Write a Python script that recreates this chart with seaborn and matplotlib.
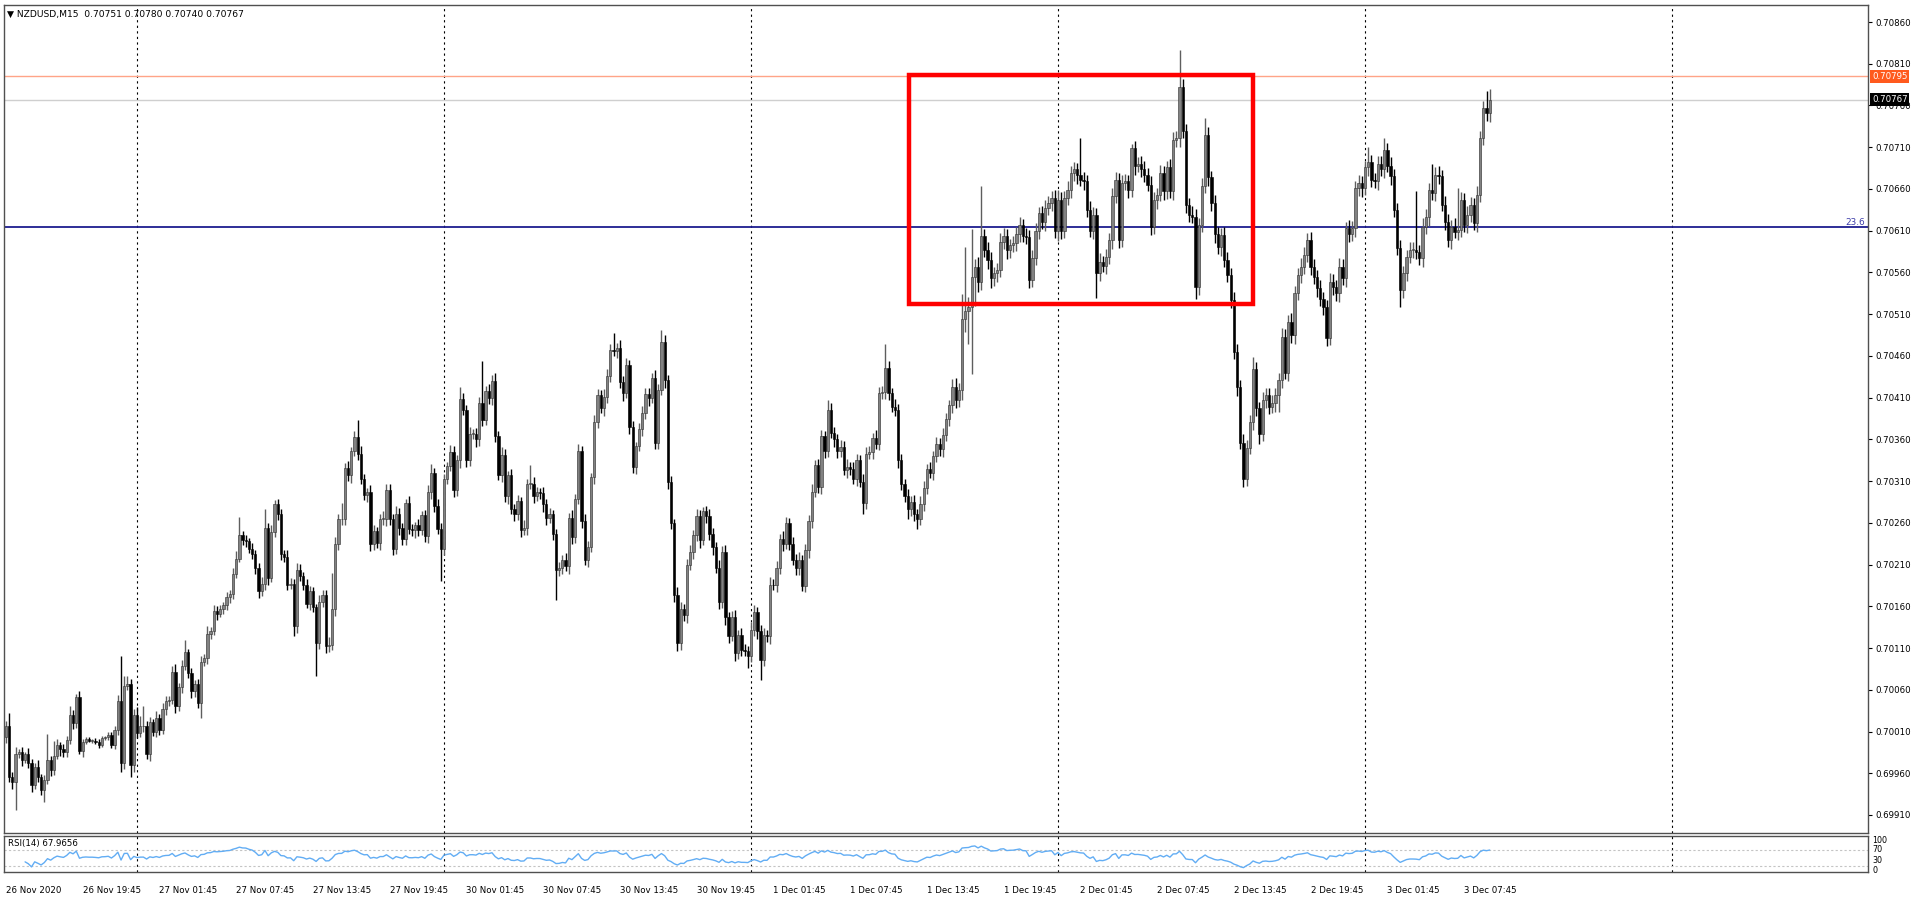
# NZDUSD M15 candlestick chart with RSI panel (MT4 style)

import numpy as np
import pandas as pd
import seaborn as sns
import matplotlib.pyplot as plt
import matplotlib.transforms as mtransforms
from matplotlib.patches import Rectangle

sns.set_style("white")
plt.rcParams["font.family"] = ["DejaVu Sans"]

# ==========================================================
# Data (prices in points above 0.70000, one value per M15 bar)
# ==========================================================

first_open = 4

close_pts = [
    16, -44, -50, -17, -15, -24, -17, -28, -54, -32, -44, -60, -48, -24, -36, -19, -6, -11, -15, 0,
    30, 20, 51, -13, -2, 1, -1, -1, -3, -6, 2, 3, 6, -6, 12, 46, -28, 65, 67, -30,
    30, 8, 16, 17, -17, 21, 10, 26, 12, 37, 46, 48, 81, 40, 63, 89, 105, 80, 58, 67,
    44, 93, 98, 127, 131, 154, 151, 157, 161, 171, 175, 199, 217, 245, 239, 238, 229, 223, 206, 178,
    187, 254, 194, 249, 282, 270, 223, 219, 186, 187, 136, 203, 196, 186, 163, 178, 159, 116, 165, 174,
    112, 114, 157, 235, 264, 265, 326, 317, 346, 363, 343, 313, 293, 297, 235, 250, 236, 265, 265, 299,
    265, 229, 271, 254, 241, 284, 253, 251, 257, 252, 269, 244, 297, 320, 280, 253, 229, 313, 328, 345,
    299, 335, 408, 395, 335, 366, 367, 360, 403, 383, 418, 410, 430, 364, 317, 341, 292, 317, 276, 270,
    286, 251, 254, 307, 307, 292, 297, 296, 282, 266, 270, 247, 204, 206, 216, 208, 266, 243, 288, 346,
    262, 216, 231, 315, 381, 413, 397, 411, 436, 467, 466, 470, 429, 415, 449, 375, 327, 352, 372, 391,
    414, 409, 434, 356, 419, 477, 431, 309, 260, 174, 116, 157, 149, 210, 225, 245, 268, 239, 274, 268,
    247, 231, 206, 165, 225, 147, 124, 147, 104, 126, 108, 107, 101, 132, 153, 130, 96, 126, 124, 186,
    185, 206, 241, 235, 260, 235, 216, 206, 216, 184, 227, 262, 297, 329, 303, 364, 346, 395, 368, 360,
    346, 351, 323, 327, 325, 313, 335, 309, 284, 343, 345, 362, 355, 415, 417, 446, 415, 399, 395, 335,
    307, 292, 277, 285, 270, 264, 283, 302, 324, 320, 340, 355, 348, 365, 384, 401, 423, 407, 419, 504,
    514, 519, 555, 567, 549, 604, 587, 575, 553, 559, 563, 597, 604, 587, 593, 595, 606, 617, 604, 603,
    551, 577, 610, 631, 621, 637, 643, 649, 610, 647, 610, 649, 659, 679, 684, 677, 671, 669, 635, 610,
    629, 559, 573, 568, 579, 599, 651, 671, 599, 667, 669, 659, 709, 688, 690, 684, 677, 665, 615, 647,
    653, 679, 657, 686, 657, 719, 721, 782, 729, 641, 629, 627, 543, 617, 663, 725, 674, 643, 606, 590,
    605, 575, 557, 527, 465, 423, 356, 313, 350, 381, 444, 397, 366, 407, 413, 399, 403, 413, 431, 483,
    440, 501, 485, 535, 557, 567, 581, 599, 567, 555, 541, 528, 519, 481, 549, 543, 535, 567, 553, 613,
    606, 613, 661, 667, 661, 686, 692, 671, 669, 690, 684, 707, 688, 675, 635, 589, 539, 559, 579, 587,
    587, 585, 577, 615, 627, 659, 655, 677, 675, 641, 621, 599, 615, 609, 611, 647, 617, 629, 641, 619,
    653, 721, 757, 751, 767,
]

# upper wick above the body, in points
hi_pad = [
    6, 16, 5, 9, 4, 6, 3, 7, 5, 4, 8, 3, 6, 31, 5, 18, 7, 4, 6, 5,
    10, 6, 4, 8, 3, 2, 3, 2, 3, 4, 3, 2, 4, 3, 5, 8, 55, 12, 9, 6,
    7, 9, 12, 24, 5, 6, 4, 8, 5, 7, 6, 4, 8, 10, 5, 7, 15, 4, 6, 5,
    6, 7, 5, 9, 4, 7, 6, 5, 4, 6, 5, 7, 9, 22, 5, 6, 4, 7, 5, 6,
    8, 23, 6, 9, 5, 7, 6, 5, 8, 7, 6, 9, 8, 5, 7, 6, 5, 4, 8, 6,
    6, 9, 43, 8, 7, 19, 6, 8, 5, 7, 20, 9, 6, 5, 8, 7, 5, 6, 9, 7,
    8, 6, 9, 7, 6, 5, 8, 6, 4, 7, 5, 6, 8, 10, 6, 9, 7, 6, 5, 8,
    7, 6, 15, 8, 6, 9, 5, 7, 8, 51, 6, 8, 7, 9, 6, 10, 7, 5, 8, 6,
    7, 5, 9, 6, 22, 8, 6, 5, 7, 6, 8, 5, 6, 7, 5, 8, 6, 9, 7, 8,
    6, 9, 7, 5, 8, 7, 6, 9, 8, 7, 20, 6, 9, 7, 8, 6, 7, 5, 8, 9,
    7, 8, 6, 9, 7, 14, 8, 6, 7, 5, 9, 8, 6, 7, 9, 6, 8, 7, 5, 6,
    8, 7, 6, 9, 7, 8, 6, 7, 9, 6, 8, 7, 5, 9, 8, 6, 7, 8, 6, 9,
    7, 8, 6, 9, 7, 6, 8, 7, 9, 6, 8, 7, 9, 6, 8, 7, 6, 12, 8, 7,
    6, 8, 7, 9, 6, 8, 7, 6, 9, 8, 7, 6, 9, 8, 7, 28, 8, 6, 9, 7,
    8, 6, 9, 7, 8, 6, 9, 8, 7, 9, 6, 8, 7, 9, 8, 6, 9, 10, 8, 30,
    77, 12, 57, 9, 11, 59, 8, 10, 9, 7, 8, 10, 9, 8, 7, 9, 8, 10, 7, 9,
    8, 10, 9, 7, 8, 10, 9, 8, 10, 12, 9, 8, 10, 9, 8, 7, 44, 9, 8, 10,
    9, 8, 10, 7, 9, 8, 10, 9, 8, 10, 9, 8, 5, 9, 8, 10, 9, 8, 10, 9,
    8, 10, 9, 8, 10, 9, 8, 45, 10, 9, 8, 10, 9, 8, 10, 20, 9, 8, 10, 9,
    8, 10, 9, 8, 10, 9, 8, 10, 9, 8, 15, 9, 8, 10, 9, 8, 10, 9, 8, 10,
    9, 8, 10, 9, 8, 10, 9, 8, 10, 9, 8, 10, 9, 8, 10, 9, 8, 10, 9, 8,
    10, 9, 8, 10, 9, 8, 18, 9, 8, 10, 9, 14, 8, 10, 9, 8, 10, 9, 8, 10,
    9, 70, 8, 10, 9, 8, 31, 9, 11, 8, 10, 9, 8, 10, 50, 9, 8, 10, 9, 8,
    10, 9, 8, 20, 13,
]

# lower wick below the body, in points
lo_pad = [
    8, 6, 9, 34, 5, 7, 4, 6, 8, 5, 7, 6, 14, 5, 7, 6, 4, 8, 5, 6,
    5, 7, 6, 4, 8, 3, 2, 3, 2, 4, 3, 2, 3, 4, 5, 6, 10, 7, 5, 15,
    8, 6, 5, 7, 6, 8, 5, 7, 6, 5, 7, 6, 5, 8, 6, 7, 5, 6, 8, 7,
    6, 18, 5, 7, 6, 5, 7, 4, 6, 5, 7, 6, 5, 4, 6, 7, 5, 6, 7, 8,
    6, 7, 8, 5, 6, 7, 8, 6, 7, 5, 12, 8, 6, 7, 5, 8, 6, 40, 7, 6,
    8, 7, 6, 9, 7, 6, 8, 7, 9, 6, 8, 7, 6, 8, 9, 7, 6, 8, 7, 9,
    7, 8, 6, 9, 7, 8, 6, 7, 9, 8, 6, 7, 8, 9, 7, 6, 39, 8, 7, 6,
    8, 7, 9, 6, 8, 7, 6, 9, 8, 7, 6, 8, 9, 7, 6, 8, 7, 9, 6, 8,
    7, 8, 6, 9, 7, 8, 6, 7, 9, 8, 6, 7, 36, 8, 7, 6, 9, 8, 7, 6,
    8, 7, 9, 6, 8, 7, 6, 9, 8, 7, 6, 8, 7, 9, 6, 8, 7, 9, 6, 8,
    7, 9, 6, 8, 7, 6, 9, 8, 7, 9, 10, 8, 7, 9, 6, 8, 7, 9, 6, 8,
    7, 9, 6, 8, 7, 9, 8, 6, 9, 7, 8, 6, 15, 8, 7, 9, 24, 8, 7, 9,
    6, 8, 7, 9, 6, 8, 7, 9, 8, 6, 7, 9, 8, 6, 7, 9, 8, 7, 6, 9,
    8, 7, 6, 9, 8, 7, 9, 6, 14, 8, 7, 9, 6, 8, 7, 9, 8, 6, 7, 9,
    8, 7, 12, 9, 8, 11, 7, 9, 8, 6, 9, 7, 8, 9, 7, 8, 9, 10, 8, 12,
    15, 40, 81, 35, 12, 10, 9, 11, 12, 9, 10, 8, 9, 11, 10, 8, 9, 10, 8, 9,
    10, 9, 8, 10, 9, 11, 8, 10, 9, 12, 10, 9, 8, 10, 9, 11, 8, 10, 9, 8,
    10, 30, 9, 8, 10, 9, 11, 8, 10, 9, 8, 10, 9, 11, 8, 10, 9, 8, 10, 9,
    11, 8, 10, 9, 8, 10, 9, 11, 8, 10, 9, 8, 15, 10, 9, 8, 10, 9, 11, 8,
    10, 9, 8, 10, 9, 11, 8, 10, 9, 8, 10, 9, 11, 8, 10, 9, 8, 10, 20, 9,
    8, 10, 9, 11, 8, 10, 9, 8, 10, 9, 11, 8, 10, 9, 8, 10, 9, 11, 8, 10,
    9, 8, 10, 9, 11, 8, 10, 9, 8, 10, 9, 11, 8, 10, 9, 8, 21, 10, 9, 8,
    10, 9, 8, 10, 9, 11, 8, 10, 9, 8, 10, 9, 11, 8, 10, 9, 8, 10, 9, 8,
    10, 9, 8, 10, 11,
]

# daily separators (bar index of 00:00) and time axis labels
separator_bars = [41, 137, 233, 329, 425, 521]
time_tick_bars = [0, 24, 48, 72, 96, 120, 144, 168, 192, 216,
                  240, 264, 288, 312, 336, 360, 384, 408, 432, 456]
time_tick_labels = ["26 Nov 2020", "26 Nov 19:45", "27 Nov 01:45", "27 Nov 07:45",
                    "27 Nov 13:45", "27 Nov 19:45", "30 Nov 01:45", "30 Nov 07:45",
                    "30 Nov 13:45", "30 Nov 19:45", "1 Dec 01:45", "1 Dec 07:45",
                    "1 Dec 13:45", "1 Dec 19:45", "2 Dec 01:45", "2 Dec 07:45",
                    "2 Dec 13:45", "2 Dec 19:45", "3 Dec 01:45", "3 Dec 07:45"]

price_ticks = [0.69910, 0.69960, 0.70010, 0.70060, 0.70110, 0.70160, 0.70210,
               0.70260, 0.70310, 0.70360, 0.70410, 0.70460, 0.70510, 0.70560,
               0.70610, 0.70660, 0.70710, 0.70760, 0.70810, 0.70860]

ask_price = 0.70795
bid_price = 0.70767
fib_price = 0.70614
box_bars = [282.3, 390.0]
box_prices = [0.70522, 0.70797]
rsi_period = 14

# ==========================================================
# Build OHLC
# ==========================================================

assert len(close_pts) == len(hi_pad) == len(lo_pad) == 465

n = len(close_pts)
bars = np.arange(n)
close = 0.7 + np.array(close_pts) / 1e5
open_ = 0.7 + np.array([first_open] + close_pts[:-1]) / 1e5
body_top = np.maximum(open_, close)
body_bot = np.minimum(open_, close)
high = body_top + np.array(hi_pad) / 1e5
low = body_bot - np.array(lo_pad) / 1e5
body_h = np.maximum(body_top - body_bot, 1.1e-5)
bull = close >= open_

# RSI(14), Wilder smoothing
diff = pd.Series(close).diff()
gain = diff.clip(lower=0).ewm(alpha=1 / rsi_period, adjust=True, min_periods=6).mean()
loss = (-diff.clip(upper=0)).ewm(alpha=1 / rsi_period, adjust=True, min_periods=6).mean()
rsi = 100 - 100 / (1 + gain / loss)
rsi_df = pd.DataFrame({"bar": bars, "rsi": rsi})

# ==========================================================
# Figure layout (pixel geometry of the terminal window)
# ==========================================================

W, H = 1919, 900
fig = plt.figure(figsize=(W / 100, H / 100), dpi=100)
fig.patch.set_facecolor("white")

ax = fig.add_axes([4 / W, 1 - 833 / H, 1864 / W, 828 / H])
ax_rsi = fig.add_axes([4 / W, 1 - 872 / H, 1864 / W, 36 / H])

x_lim = (-0.6, 582.3)

# ==========================================================
# Main price panel
# ==========================================================

for b in separator_bars:
    ax.axvline(b, color="black", linestyle=(0, (2, 3)), linewidth=0.8, zorder=0.5)

ax.axhline(ask_price, color="#ffa488", linewidth=1.0, zorder=1)
ax.axhline(bid_price, color="#cfcfcf", linewidth=1.0, zorder=1)
ax.axhline(fib_price, color="#1c1c8f", linewidth=1.3, zorder=1)

ax.vlines(bars[bull], low[bull], high[bull], color="#5e5e5e", linewidth=1.0, zorder=2)
ax.vlines(bars[~bull], low[~bull], high[~bull], color="black", linewidth=1.0, zorder=2)
ax.bar(bars[bull], body_h[bull], bottom=body_bot[bull], width=0.72,
       color="#828282", edgecolor="#2e2e2e", linewidth=0.4, zorder=3)
ax.bar(bars[~bull], body_h[~bull], bottom=body_bot[~bull], width=0.72,
       color="black", edgecolor="black", linewidth=0.4, zorder=3)

ax.add_patch(Rectangle((box_bars[0], box_prices[0]), box_bars[1] - box_bars[0],
                       box_prices[1] - box_prices[0], fill=False,
                       edgecolor="#ff0000", linewidth=3.2, zorder=5))

ax.set_xlim(*x_lim)
ax.set_ylim(0.698884, 0.708804)
ax.set_xticks([])
ax.yaxis.tick_right()
ax.set_yticks(price_ticks)
ax.set_yticklabels([f"{v:.5f}" for v in price_ticks])
ax.tick_params(axis="y", direction="out", length=3, width=0.8, pad=2,
               labelsize=6.2, colors="black")
for s in ax.spines.values():
    s.set_color("#505050")
    s.set_linewidth(1.0)

blend = mtransforms.blended_transform_factory(ax.transAxes, ax.transData)
ax.text(1.0022, ask_price, f"{ask_price:.5f}", transform=blend, ha="left", va="center",
        fontsize=6.2, color="white", zorder=6,
        bbox=dict(boxstyle="square,pad=0.2", fc="#ff5a1e", ec="none"))
ax.text(1.0022, bid_price, f"{bid_price:.5f}", transform=blend, ha="left", va="center",
        fontsize=6.2, color="white", zorder=6,
        bbox=dict(boxstyle="square,pad=0.2", fc="black", ec="none"))
ax.text(0.9985, fib_price + 0.000005, "23.6", transform=blend, ha="right", va="bottom",
        fontsize=6.4, color="#3b3ba8")

ax.text(0.0015, 0.9885, "\u25bc NZDUSD,M15  0.70751 0.70780 0.70740 0.70767",
        transform=ax.transAxes, ha="left", va="center", fontsize=6.6, color="black")

# ==========================================================
# RSI panel
# ==========================================================

for b in separator_bars:
    ax_rsi.axvline(b, color="black", linestyle=(0, (2, 3)), linewidth=0.8, zorder=0.5)
ax_rsi.axhline(70, color="#c4c4c4", linestyle=(0, (2, 2)), linewidth=0.8)
ax_rsi.axhline(30, color="#c4c4c4", linestyle=(0, (2, 2)), linewidth=0.8)

sns.lineplot(data=rsi_df, x="bar", y="rsi", ax=ax_rsi, color="#62adf4",
             linewidth=1.0, legend=False)

ax_rsi.set_xlim(*x_lim)
ax_rsi.set_ylim(14, 104)
ax_rsi.set_xlabel("")
ax_rsi.set_ylabel("")
ax_rsi.set_yticks([])
ax_rsi.set_xticks(time_tick_bars)
ax_rsi.set_xticklabels(time_tick_labels)
for lab in ax_rsi.get_xticklabels():
    lab.set_horizontalalignment("left")
ax_rsi.tick_params(axis="x", direction="out", length=3, width=0.8, pad=7,
                   labelsize=6.2, colors="black")
for s in ax_rsi.spines.values():
    s.set_color("#505050")
    s.set_linewidth(1.0)

for txt, yf in [("100", 0.88), ("70", 0.62), ("30", 0.31), ("0", 0.04)]:
    ax_rsi.text(1.0022, yf, txt, transform=ax_rsi.transAxes, ha="left", va="center",
                fontsize=5.8, color="black")

ax_rsi.text(0.002, 0.80, "RSI(14) 67.9656", transform=ax_rsi.transAxes,
            ha="left", va="center", fontsize=6.2, color="black")

fig.savefig("out.png", dpi=100)
